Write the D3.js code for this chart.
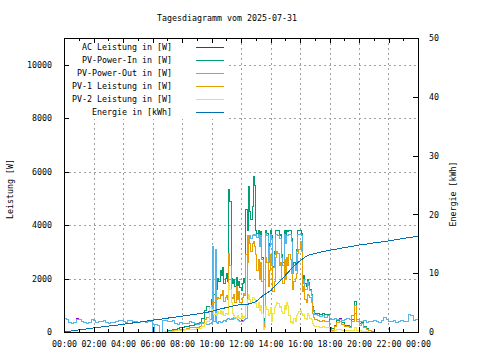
<!DOCTYPE html>
<html lang="de">
<head>
<meta charset="UTF-8">
<title>Tagesdiagramm</title>
<script src="https://cdn.jsdelivr.net/npm/d3@7"></script>
<style>
  body { margin: 0; background: #fff; }
  svg text { font-family: "DejaVu Sans Mono", monospace; font-size: 8.3px; fill: #000; }
</style>
</head>
<body>
<script>
// Messzeitpunkte: 10-Minuten-Raster, zwischen 10:00 und 17:00 5-Minuten-Raster
var zeit = d3.range(0, 60).map(function(k) { return k / 6; })
    .concat(d3.range(0, 84).map(function(j) { return 10 + j / 12; }))
    .concat(d3.range(0, 43).map(function(k) { return 17 + k / 6; }));

var acLeistung = [
  490,480,340,330,350,510,470,380,360,330,370,450,440,360,380,400,420,350,330,360,
  340,390,440,430,390,360,420,440,400,380,350,400,380,350,400,410,0,270,260,0,
  420,430,400,380,420,300,280,350,330,300,320,380,350,300,280,330,360,310,290,320,
  // 10:00 - 17:00
  350,3200,400,3100,350,330,380,360,340,400,420,380,
  450,500,520,480,520,480,550,500,560,450,420,380,
  440,400,430,450,520,3600,3550,3600,3500,3600,3650,3600,
  3650,3550,3650,3200,3600,2700,250,400,3700,3600,2600,3200,
  3650,3500,2400,2900,3650,3650,3600,3500,3500,2800,2500,3650,
  3300,3600,3600,3650,3650,3400,2200,2500,2300,3000,3650,3650,
  3650,3600,1800,1950,1600,1600,1900,1750,1550,1350,900,750,
  // 17:00 - 24:00
  650,600,580,620,560,600,520,480,500,450,500,440,480,520,450,600,700,480,
  400,380,420,360,400,380,440,400,350,420,560,470,400,380,420,360,400,430,380,400,
  670,600,420,450,430
];
var pvPowerIn = [
  0,0,0,0,0,0,0,0,0,0,0,0,0,0,0,0,0,0,0,0,
  0,0,0,0,0,0,0,0,0,0,0,0,0,0,0,0,0,0,0,0,
  0,20,40,60,80,100,120,150,170,190,210,240,250,270,300,350,500,800,950,750,
  1200,1450,1400,1700,1600,2000,1900,2300,2100,2400,1800,2000,
  2200,1900,5350,4900,2000,1800,1950,1700,2050,1750,1900,1650,
  1550,1800,2000,1850,4600,3800,5450,4500,4200,4700,5800,5500,
  3780,3700,3780,3300,3750,2800,300,500,3780,3700,2650,3300,
  3780,3600,2450,3000,3780,3780,3780,3600,3650,2900,2600,3780,
  3400,3780,3750,3780,3780,3500,2250,2600,2350,3100,3800,3800,
  3800,3700,1900,2100,1800,1700,1950,1850,1600,1400,950,800,
  700,680,650,700,640,660,150,120,250,420,480,350,250,260,200,450,1150,450,
  300,350,200,120,60,30,0,0,0,0,0,0,0,0,0,0,0,0,0,0,
  0,0,0,0,0
];
var pvPowerOut = [
  490,480,340,330,350,480,470,380,360,330,370,450,440,360,380,400,420,350,330,360,
  340,390,440,430,390,360,420,440,400,380,350,400,380,350,400,410,0,270,260,0,
  420,430,400,380,420,300,280,350,330,300,320,380,350,300,280,330,360,310,290,320,
  350,3200,400,3100,350,330,380,360,340,400,420,380,
  450,500,520,480,520,480,550,500,560,450,420,380,
  380,400,430,450,520,3600,3550,3600,3500,3600,3650,3600,
  3650,3550,3650,3200,3600,2700,250,400,3700,3600,2600,3200,
  3650,3500,2400,2900,3650,3650,3600,3500,3500,2800,2500,3650,
  3300,3600,3600,3650,3650,3400,2200,2500,2300,3000,3650,3650,
  3650,3600,1800,1950,1600,1600,1900,1750,1550,1350,900,750,
  650,600,580,620,560,600,520,480,500,450,470,440,480,520,450,600,700,480,
  400,380,420,360,400,380,440,400,350,420,560,470,400,380,420,360,400,430,380,400,
  670,600,420,450,430
];
var pv1Leistung = [
  0,0,0,0,0,0,0,0,0,0,0,0,0,0,0,0,0,0,0,0,
  0,0,0,0,0,0,0,0,0,0,0,0,0,0,0,0,0,0,0,0,
  0,10,20,35,50,60,70,90,100,110,130,150,150,160,180,220,300,450,550,450,
  1000,1150,1100,1250,1200,1300,1250,1400,1350,1550,1150,1300,
  1350,1200,2950,2500,1300,1250,1400,1100,1700,1200,1500,1100,
  1100,1300,1450,1350,2900,2600,3600,3300,3000,3300,3400,3200,
  2900,2300,2700,2000,2600,1900,150,300,2800,2600,1700,2300,
  2900,2500,1500,1900,2800,3000,2950,2500,2600,2000,1800,2700,
  1950,2800,2500,2900,2700,2200,1600,1900,2000,2200,2950,3100,
  3400,3000,1500,1700,1200,1100,1400,1350,1300,1100,700,550,
  450,420,400,430,380,400,80,60,200,350,400,280,200,220,150,380,1000,380,
  250,300,150,90,40,20,0,0,0,0,0,0,0,0,0,0,0,0,0,0,
  0,0,0,0,0
];
var pv2Leistung = [
  0,0,0,0,0,0,0,0,0,0,0,0,0,0,0,0,0,0,0,0,
  0,0,0,0,0,0,0,0,0,0,0,0,0,0,0,0,0,0,0,0,
  0,10,20,25,30,40,50,60,70,80,80,90,100,110,120,130,200,300,380,900,
  750,850,650,700,600,750,700,800,650,750,600,700,
  700,650,1800,1600,1100,700,600,550,500,600,550,500,
  650,520,580,550,1000,1200,1400,1200,1100,1300,1300,1200,
  1050,900,1100,800,1000,700,100,150,950,850,600,700,
  900,400,700,900,1000,1100,1050,900,950,750,700,1000,
  850,1100,1000,600,350,400,300,500,400,600,700,750,
  800,700,600,650,500,450,700,600,500,450,300,250,
  200,190,180,200,170,160,30,20,50,100,90,70,60,50,40,60,150,60,
  40,30,20,10,0,0,0,0,0,0,0,0,0,0,0,0,0,0,0,0,
  0,0,0,0,0
];
// Energie, halbstuendlich 00:00 .. 24:00
var energie = [
  0,0.18,0.35,0.52,0.7,0.85,1.0,1.15,1.3,1.48,1.65,1.82,2.0,2.15,2.35,2.52,2.7,2.88,3.05,3.25,
  3.5,3.85,4.15,4.45,4.7,4.75,5.15,6.2,7.0,8.3,9.6,11.0,12.1,13.0,13.35,13.65,13.9,14.1,14.35,14.55,
  14.8,14.95,15.15,15.3,15.5,15.7,15.9,16.1,16.3
];
var xTicks = [0, 2, 4, 6, 8, 10, 12, 14, 16, 18, 20, 22, 24];
var yTicks = [0, 2000, 4000, 6000, 8000, 10000];
var y2Ticks = [0, 10, 20, 30, 40, 50];
var titel = "Tagesdiagramm vom 2025-07-31";
var serien = [
  { name: "AC Leistung in [W]", werte: acLeistung, farbe: "#9400d3" },
  { name: "PV-Power-In in [W]", werte: pvPowerIn, farbe: "#009e73" },
  { name: "PV-Power-Out in [W]", werte: pvPowerOut, farbe: "#56b4e9" },
  { name: "PV-1 Leistung in [W]", werte: pv1Leistung, farbe: "#e69f00" },
  { name: "PV-2 Leistung in [W]", werte: pv2Leistung, farbe: "#f0e442" }
];
var energieFarbe = "#0072b2";

var W = 480, H = 360;
var L = 64, R = 418, T = 38, B = 332;

var svg = d3.select("body").append("svg")
    .attr("width", W)
    .attr("height", H);

var x = d3.scaleLinear().domain([0, 24]).range([L, R]);
var y = d3.scaleLinear().domain([0, 11000]).range([B, T]);
var y2 = d3.scaleLinear().domain([0, 50]).range([B, T]);

// Gitter
var grid = svg.append("g").attr("stroke", "#a0a0a0").attr("stroke-dasharray", "2,3")
    .attr("shape-rendering", "crispEdges");
grid.selectAll(".gx").data(xTicks.slice(1, -1)).enter().append("line")
    .attr("x1", function(d) { return Math.round(x(d)) + 0.5; })
    .attr("x2", function(d) { return Math.round(x(d)) + 0.5; })
    .attr("y1", T).attr("y2", B);
grid.selectAll(".gy").data(yTicks.slice(1)).enter().append("line")
    .attr("y1", function(d) { return Math.round(y(d)) + 0.5; })
    .attr("y2", function(d) { return Math.round(y(d)) + 0.5; })
    .attr("x1", L).attr("x2", R);

// Legende (weisser Hintergrund)
svg.append("rect").attr("x", L + 1).attr("y", T + 1).attr("width", 163).attr("height", 80).attr("fill", "#fff");

// Daten
svg.append("clipPath").attr("id", "clip").append("rect")
    .attr("x", L).attr("y", T).attr("width", R - L).attr("height", B - T);
var plot = svg.append("g").attr("clip-path", "url(#clip)").attr("fill", "none")
    .attr("stroke-width", 1).attr("shape-rendering", "crispEdges");

var linie = d3.line()
    .x(function(d, i) { return x(zeit[i]); })
    .y(function(d) { return y(d); })
    .curve(d3.curveStepAfter);

serien.forEach(function(s) {
    plot.append("path").attr("d", linie(s.werte)).attr("stroke", s.farbe);
});

var eZeit = d3.range(energie.length).map(function(k) { return k / 2; });
var eLinie = d3.line()
    .x(function(d, i) { return x(eZeit[i]); })
    .y(function(d) { return y2(d); });
plot.append("path").attr("d", eLinie(energie)).attr("stroke", energieFarbe);

// Rahmen
svg.append("rect").attr("x", L + 0.5).attr("y", T + 0.5).attr("width", R - L).attr("height", B - T)
    .attr("fill", "none").attr("stroke", "#000").attr("shape-rendering", "crispEdges");

// Achsen
var fmtZeit = function(h) { return d3.format("02")(h % 24) + ":00"; };
var achsen = [];
achsen.push(svg.append("g").attr("transform", "translate(0," + B + ")")
    .call(d3.axisBottom(x).tickValues(xTicks).tickSize(-5).tickPadding(9).tickFormat(fmtZeit)));
achsen.push(svg.append("g").attr("transform", "translate(0," + T + ")")
    .call(d3.axisTop(x).tickValues(xTicks).tickSize(-5).tickFormat("")));
achsen.push(svg.append("g").attr("transform", "translate(0," + B + ")")
    .call(d3.axisBottom(x).tickValues(d3.range(1, 24, 2)).tickSize(-3).tickFormat("")));
achsen.push(svg.append("g").attr("transform", "translate(0," + T + ")")
    .call(d3.axisTop(x).tickValues(d3.range(1, 24, 2)).tickSize(-3).tickFormat("")));
achsen.push(svg.append("g").attr("transform", "translate(" + L + ",0)")
    .call(d3.axisLeft(y).tickValues(yTicks).tickSize(-5).tickPadding(12).tickFormat(d3.format("d"))));
achsen.push(svg.append("g").attr("transform", "translate(" + R + ",0)")
    .call(d3.axisRight(y2).tickValues(y2Ticks).tickSize(-5).tickPadding(11)));

svg.selectAll(".domain").remove();
svg.selectAll(".tick line").attr("stroke", "#000").attr("shape-rendering", "crispEdges");
svg.selectAll(".tick text").style("fill", "#000");
achsen.forEach(function(a) { a.attr("font-family", null).attr("font-size", null); });

// Titel und Achsenbeschriftungen
svg.append("text").attr("x", 227).attr("y", 21).attr("text-anchor", "middle").text(titel);
svg.append("text").attr("transform", "translate(13,189) rotate(-90)")
    .attr("text-anchor", "middle").text("Leistung [W]");
svg.append("text").attr("transform", "translate(456,194) rotate(-90)")
    .attr("text-anchor", "middle").text("Energie [kWh]");

// Legende
var alle = serien.concat([{ name: "Energie in [kWh]", farbe: energieFarbe }]);
var leg = svg.append("g");
alle.forEach(function(s, i) {
    var yy = 46.7 + i * 13.1;
    leg.append("text").attr("x", 172).attr("y", yy + 3).attr("text-anchor", "end").text(s.name);
    leg.append("line").attr("x1", 196).attr("x2", 224)
        .attr("y1", Math.round(yy) + 0.5).attr("y2", Math.round(yy) + 0.5)
        .attr("stroke", s.farbe).attr("shape-rendering", "crispEdges");
});
</script>
</body>
</html>
